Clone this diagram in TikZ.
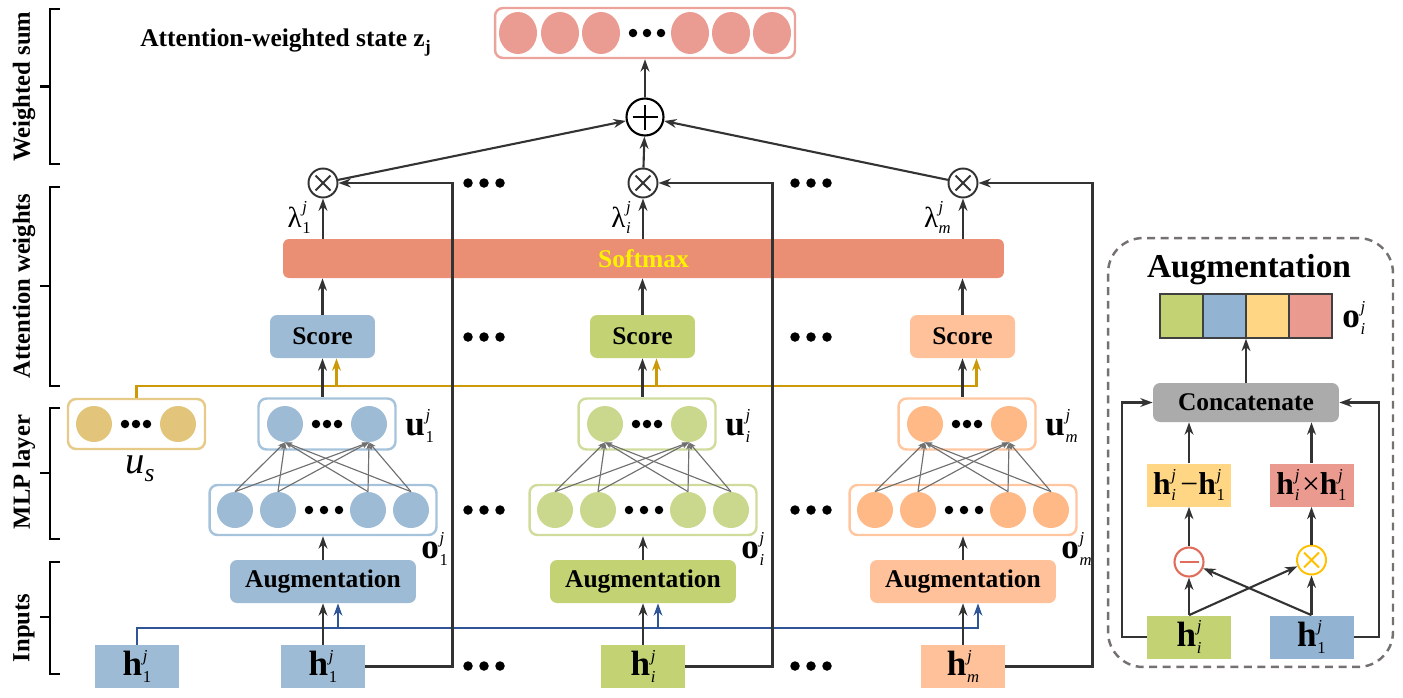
\documentclass[tikz,border=0pt]{standalone}
\usepackage{fontspec}
\setmainfont{Liberation Serif}
\usetikzlibrary{arrows.meta,calc,shapes.geometric}

\definecolor{cblue}{HTML}{9DBBD5}
\definecolor{cbluebd}{HTML}{A6C3DC}
\definecolor{cgreen}{HTML}{C3D272}
\definecolor{cgreenci}{HTML}{CAD88E}
\definecolor{cgreenbd}{HTML}{CFDC9C}
\definecolor{corange}{HTML}{FFC19A}
\definecolor{corangeci}{HTML}{FFB987}
\definecolor{corangebd}{HTML}{FFC6A0}
\definecolor{cgold}{HTML}{E2C47A}
\definecolor{cgoldbd}{HTML}{E6CA88}
\definecolor{goldline}{HTML}{CC9A06}
\definecolor{blueline}{HTML}{2F5597}
\definecolor{csoft}{HTML}{EA8E74}
\definecolor{cpink}{HTML}{EA9C92}
\definecolor{cpinkbd}{HTML}{EBA39B}
\definecolor{linec}{HTML}{333333}
\definecolor{fcc}{HTML}{707070}
\definecolor{pgreen}{HTML}{C3D272}
\definecolor{pblue}{HTML}{92B4D2}
\definecolor{pyellow}{HTML}{FFD784}
\definecolor{ppink}{HTML}{EA9A8F}
\definecolor{pgray}{HTML}{ABABAB}
\definecolor{dashc}{HTML}{767171}
\definecolor{mred}{HTML}{E06C5C}
\definecolor{myel}{HTML}{FFC000}

\newcommand{\bv}[3]{\textbf{#1}\kern0.4pt\makebox[0pt][l]{\raisebox{0.42em}{\fontsize{9.5}{10}\selectfont\itshape #2}}\raisebox{-0.2em}{\fontsize{9.5}{10}\selectfont #3}}
\newcommand{\lamv}[1]{λ\kern0.3pt\makebox[0pt][l]{\raisebox{0.5em}{\fontsize{9.5}{10}\selectfont\itshape j}}\raisebox{-0.22em}{\fontsize{9.5}{10}\selectfont #1}}

\begin{document}
\begin{tikzpicture}[x=0.02cm,y=-0.02cm,
  base/.style={font=\fontsize{14.5}{17}\selectfont\bfseries},
  arr/.style={line width=1.2pt, draw=linec, -{Stealth[length=7pt,width=5pt,inset=2.2pt]}},
  fcarr/.style={line width=0.65pt, draw=fcc, -{Stealth[length=4pt,width=3pt,inset=1pt]}},
  goldarr/.style={line width=1.2pt, draw=goldline, -{Stealth[length=7pt,width=5pt,inset=2.2pt]}},
  bluearr/.style={line width=1.2pt, draw=blueline, -{Stealth[length=7pt,width=5pt,inset=2.2pt]}},
  scorebox/.style={base, rounded corners=0.14cm, minimum width=2.1cm, minimum height=0.86cm, inner sep=0},
  augbox/.style={base, rounded corners=0.14cm, minimum width=3.72cm, minimum height=0.86cm, inner sep=0},
  hbox/.style={font=\fontsize{20}{24}\selectfont, minimum width=1.68cm, minimum height=0.86cm, inner sep=0},
  layerbox/.style={rounded corners=0.16cm, line width=1.4pt, inner sep=0},
  neuron/.style={circle, minimum size=0.72cm, inner sep=0},
  zneuron/.style={ellipse, minimum width=0.76cm, minimum height=0.84cm, inner sep=0, fill=cpink},
  lbl/.style={font=\fontsize{20}{24}\selectfont, inner sep=0},
  laml/.style={font=\fontsize{16.5}{20}\selectfont, inner sep=0},
  brk/.style={line width=1.4pt, draw=black},
  axl/.style={rotate=90, font=\fontsize{14}{17}\selectfont\bfseries, inner sep=0},
  otimes/.style={circle, draw=#1, line width=1.1pt, minimum size=0.58cm, inner sep=0,
    path picture={\draw[#1, line width=1.1pt]
      ([shift={(-0.15cm,-0.15cm)}]path picture bounding box.center) -- ([shift={(0.15cm,0.15cm)}]path picture bounding box.center)
      ([shift={(-0.15cm,0.15cm)}]path picture bounding box.center) -- ([shift={(0.15cm,-0.15cm)}]path picture bounding box.center);}},
  otimes/.default=linec,
  oplus/.style={circle, draw=black, line width=1.2pt, minimum size=0.74cm, inner sep=0,
    path picture={\draw[black, line width=1.2pt]
      ([xshift=-0.25cm]path picture bounding box.center) -- ([xshift=0.25cm]path picture bounding box.center)
      ([yshift=-0.25cm]path picture bounding box.center) -- ([yshift=0.25cm]path picture bounding box.center);}},
  dots/.pic={\foreach \k in {-1,0,1} \fill (\k*#1,0) circle (0.085cm);},
  bigdots/.pic={\foreach \k in {-1,0,1} \fill (\k*16,0) circle (0.095cm);}
]
\useasboundingbox (0,0) rectangle (1403,697);

% ---------- left axis ----------
\draw[brk] (60,9) -- (50,9) -- (50,164) -- (60,164) (40,86.5) -- (50,86.5);
\node[axl] (axw) at (24,86.5) {Weighted sum};
\draw[brk] (60,187) -- (50,187) -- (50,386) -- (60,386) (40,286) -- (50,286);
\node[axl] (axa) at (24,286) {Attention weights};
\draw[brk] (60,408) -- (50,408) -- (50,539) -- (60,539) (40,473) -- (50,473);
\node[axl] (axm) at (24,472) {MLP layer};
\draw[brk] (60,562) -- (50,562) -- (50,674) -- (60,674) (40,617) -- (50,617);
\node[axl] (axi) at (24,628) {Inputs};

% ---------- top ----------
\node[base, anchor=base west, inner sep=0] (ttl) at (140,46) {Attention-weighted state z\raisebox{-0.25em}{\fontsize{10}{10}\selectfont j}};
\node[rounded corners=0.16cm, line width=1.4pt, draw=cpinkbd, minimum width=6cm, minimum height=1cm, inner sep=0] (zb) at (645,33) {};
\foreach \i/\xx in {1/518,2/560,3/601,4/690,5/731,6/772} \node[zneuron] (z\i) at (\xx,33) {};
\pic at (647,33) {dots=14};
\node[oplus] (op) at (645,117) {};
\draw[arr] (op.north) -- (op.north |- zb.south);

% ---------- softmax ----------
\node[base, fill=csoft, rounded corners=0.12cm, minimum width=14.42cm, minimum height=0.78cm, inner sep=0, text=yellow] (sm) at (643.5,258.5) {Softmax};

% ---------- u_s ----------
\node[layerbox, draw=cgoldbd, minimum width=2.74cm, minimum height=1.0cm] (us) at (136.5,424) {};
\node[neuron, fill=cgold] (usa) at (94,424) {};
\node[neuron, fill=cgold] (usb) at (178,424) {};
\pic at (136,424) {dots=11};
\node[inner sep=0, anchor=base] (usl) at (140,473) {\fontsize{22}{24}\selectfont\itshape u\raisebox{-0.22em}{\fontsize{14.5}{15}\selectfont s}};

% ---------- leftmost input ----------
\node[hbox, fill=cblue] (h0) at (137,666.5) {\bv{h}{j}{1}};

% ---------- columns ----------
\foreach \n/\x/\fc/\cc/\bc/\sb in {1/323/cblue/cblue/cbluebd/1, 2/643/cgreen/cgreenci/cgreenbd/\textit{i}, 3/963/corange/corangeci/corangebd/\textit{m}} {
  \node[scorebox, fill=\fc] (sc\n) at (\x-0.5,336.5) {Score};
  \node[augbox, fill=\fc] (ag\n) at (\x,581.5) {Augmentation};
  \node[hbox, fill=\fc] (h\n) at (\x,666.5) {\bv{h}{j}{\sb}};
  \node[otimes] (ox\n) at (\x,183) {};
  \node[layerbox, draw=\bc, minimum width=2.74cm, minimum height=1.02cm] (u\n) at (\x+4,424) {};
  \node[neuron, fill=\cc] (ua\n) at (\x-38,424) {};
  \node[neuron, fill=\cc] (ub\n) at (\x+46,424) {};
  \pic at (\x+4,424) {dots=11};
  \node[layerbox, draw=\bc, minimum width=4.54cm, minimum height=1.0cm] (o\n) at (\x,510) {};
  \node[neuron, fill=\cc] (oa\n) at (\x-88,510) {};
  \node[neuron, fill=\cc] (ob\n) at (\x-45,510) {};
  \node[neuron, fill=\cc] (oc\n) at (\x+45,510) {};
  \node[neuron, fill=\cc] (od\n) at (\x+88,510) {};
  \pic at (\x+1,510) {dots=15};
  \node[lbl, anchor=base west] (ul\n) at (\x+82,435) {\bv{u}{j}{\sb}};
  \node[lbl, anchor=base west] (ol\n) at (\x+98,558) {\bv{o}{j}{\sb}};
  \node[laml, anchor=base east] (ll\n) at (\x-12,227) {\lamv{\sb}};
  \coordinate (rc\n) at (\x+129.5,183);
  \foreach \a in {oa,ob,oc,od} \foreach \b in {ua,ub} \draw[fcarr] (\a\n.north) -- (\b\n.south);
}

% ---------- gold and blue side inputs ----------
\coordinate (gl) at (137,386);
\draw[goldarr] (us.north) |- ([xshift=0.28cm]sc3.south |- gl) -- ([xshift=0.28cm]sc3.south);
\draw[goldarr] ([xshift=0.28cm]sc1.south |- gl) -- ([xshift=0.28cm]sc1.south);
\draw[goldarr] ([xshift=0.28cm]sc2.south |- gl) -- ([xshift=0.28cm]sc2.south);
\coordinate (bln) at (137,628);
\draw[bluearr] (h0.north) |- ([xshift=0.3cm]ag3.south |- bln) -- ([xshift=0.3cm]ag3.south);
\draw[bluearr] ([xshift=0.3cm]ag1.south |- bln) -- ([xshift=0.3cm]ag1.south);
\draw[bluearr] ([xshift=0.3cm]ag2.south |- bln) -- ([xshift=0.3cm]ag2.south);

% ---------- black connectors ----------
\foreach \n in {1,2,3} {
  \draw[arr] (sc\n.north) -- (sc\n.north |- sm.south);
  \draw[arr] (ox\n.south |- sm.north) -- (ox\n.south);
  \draw[arr] (u\n.north -| sc\n.south) -- (sc\n.south);
  \draw[arr] (ag\n.north) -- (ag\n.north |- o\n.south);
  \draw[arr] (h\n.north) -- (ag\n.south);
  \draw[arr] (h\n.east) -| (rc\n) -- (ox\n.east);
  \draw[arr] (ox\n) -- (op);
}

% ---------- separator dots ----------
\foreach \yy in {183,337,510,666} {
  \pic at (484,\yy) {bigdots};
  \pic at (811,\yy) {bigdots};
}

% ---------- Augmentation panel ----------
\node[draw=dashc, line width=1.4pt, dash pattern=on 4.5pt off 3.2pt, rounded corners=0.7cm, minimum width=5.7cm, minimum height=8.58cm, inner sep=0] (pan) at (1250.5,452.5) {};
\node[anchor=base, inner sep=0, font=\fontsize{19}{22}\selectfont\bfseries] (ptl) at (1249,277) {Augmentation};
\foreach \i/\xx/\cl in {1/1181.5/pgreen,2/1224.5/pblue,3/1267.5/pyellow,4/1310.5/ppink}
  \node[draw=black!75, line width=0.8pt, fill=\cl, minimum width=0.86cm, minimum height=0.88cm, inner sep=0] (cell\i) at (\xx,316) {};
\node[lbl, anchor=base west] (pol) at (1342,327) {\bv{o}{j}{\textit{i}}};
\node[base, fill=pgray, rounded corners=0.14cm, minimum width=3.72cm, minimum height=0.78cm, inner sep=0] (cc) at (1246,402.5) {Concatenate};
\node[hbox, font=\fontsize{18}{20}\selectfont, fill=pyellow] (yb) at (1189,485) {\bv{h}{j}{\textit{i}}\hspace{2.5pt}−\bv{h}{j}{1}};
\node[hbox, font=\fontsize{18}{20}\selectfont, fill=ppink] (pb) at (1311.5,485) {\bv{h}{j}{\textit{i}}\hspace{1.5pt}×\bv{h}{j}{1}};
\node[circle, draw=mred, line width=1.2pt, minimum size=0.58cm, inner sep=0,
  path picture={\draw[mred, line width=1.2pt] ([xshift=-0.19cm]path picture bounding box.center) -- ([xshift=0.19cm]path picture bounding box.center);}] (mi) at (1189,562) {};
\node[otimes=myel] (mu) at (1311.5,560) {};
\node[hbox, fill=pgreen] (hi) at (1189,637) {\bv{h}{j}{\textit{i}}};
\node[hbox, fill=pblue] (hb) at (1311.5,637) {\bv{h}{j}{1}};
\coordinate (lc) at (1122,402.5);
\coordinate (rcc) at (1379,402.5);

\draw[arr] (cc.north) -- (cc.north |- cell2.south);
\draw[arr] (yb.north) -- (yb.north |- cc.south);
\draw[arr] (pb.north) -- (pb.north |- cc.south);
\draw[arr] (mi.north) -- (yb.south);
\draw[arr] (mu.north) -- (pb.south);
\draw[arr] (hi.north) -- (mi.south);
\draw[arr] (hi.north) -- (mu);
\draw[arr] (hb.north) -- (mu.south);
\draw[arr] (hb.north) -- (mi);
\draw[arr] (hi.west) -| (lc) -- (cc.west);
\draw[arr] (hb.east) -| (rcc) -- (cc.east);
\end{tikzpicture}
\end{document}
